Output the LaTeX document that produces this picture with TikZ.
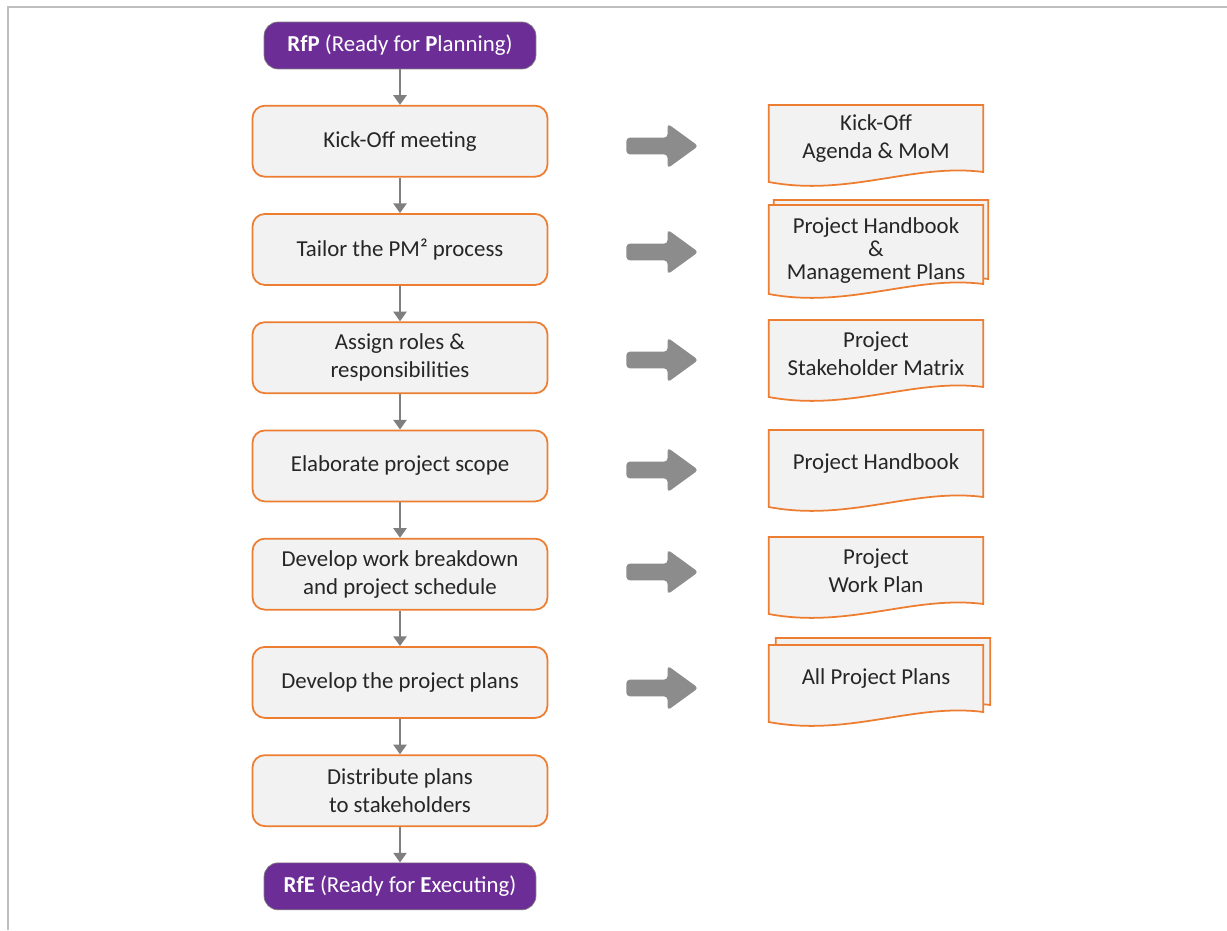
\documentclass[tikz,border=0pt]{standalone}
\usepackage{fontspec}
\setmainfont{Carlito}
\usetikzlibrary{arrows.meta,positioning,shapes.arrows,calc,backgrounds}

\definecolor{pmorange}{RGB}{237,125,49}
\definecolor{pmpurple}{RGB}{108,46,150}
\definecolor{pmfill}{RGB}{242,242,242}
\definecolor{pmgray}{RGB}{127,127,127}
\definecolor{pmframe}{RGB}{191,191,191}

\tikzset{
  stage/.style={draw=pmorange, fill=pmfill, line width=1pt, rounded corners=7pt,
    minimum width=5.9cm, minimum height=1.42cm, align=center, text=black!85,
    font=\fontsize{13}{16}\selectfont},
  gate/.style={draw=pmgray, fill=pmpurple, rounded corners=8pt, minimum width=5.44cm,
    minimum height=0.94cm, text=white, font=\fontsize{13}{16}\selectfont},
  flow/.style={draw=pmgray, line width=1.1pt, -{Triangle[width=7.5pt,length=5.5pt]}},
  fatarrow/.style={single arrow, fill=pmgray!90, anchor=tail, minimum height=1.44cm,
    inner xsep=0pt, inner ysep=0.16cm, single arrow head extend=0.28cm,
    single arrow tip angle=72, rounded corners=2pt},
  doctext/.style={anchor=north, minimum width=4.28cm, minimum height=1.32cm, inner sep=0pt,
    align=center, text=black!85, font=\fontsize{13}{16}\selectfont},
  docline/.style={draw=pmorange, fill=pmfill, line width=1pt}
}

% document outline with wavy bottom: node name, offset, extra height
\newcommand\docoutline[3]{%
  \draw[docline] ($(#1.north west)+(#2)$) -- ($(#1.north east)+(#2)$)
    -- ($(#1.north east)+(#2)+(0,67+#3)$)
    .. controls ($(#1.north east)+(#2)+(-70,58+#3)$) and ($(#1.north west)+(#2)+(80,92+#3)$)
    .. ($(#1.north west)+(#2)+(0,77+#3)$) -- cycle;}

\begin{document}
\begin{tikzpicture}[x=0.02cm, y=-0.02cm, node distance=0.71cm]
  \useasboundingbox (0,0) rectangle (1227,930);
  \draw[pmframe, line width=1.2pt] (8,930) -- (8,7) -- (1227,7);

  % process column
  \node[gate]  (rfp)     at (400,45.5)        {\textbf{RfP} (Ready for \textbf{P}lanning)};
  \node[stage] (kick)    [below=of rfp]       {Kick-Off meeting};
  \node[stage] (tailor)  [below=of kick]      {Tailor the PM² process};
  \node[stage] (roles)   [below=of tailor]    {Assign roles \&\\responsibilities};
  \node[stage] (scope)   [below=of roles]     {Elaborate project scope};
  \node[stage] (wbs)     [below=of scope]     {Develop work breakdown\\and project schedule};
  \node[stage] (plans)   [below=of wbs]       {Develop the project plans};
  \node[stage] (distrib) [below=of plans]     {Distribute plans\\to stakeholders};
  \node[gate]  (rfe)     [below=of distrib]   {\textbf{RfE} (Ready for \textbf{E}xecuting)};

  \foreach \a/\b in {rfp/kick, kick/tailor, tailor/roles, roles/scope,
                     scope/wbs, wbs/plans, plans/distrib, distrib/rfe}
    \draw[flow] (\a) -- (\b);

  % outputs
  \node[fatarrow] (ar1) at (626,146) {};
  \node[fatarrow] (ar2) at (626,252) {};
  \node[fatarrow] (ar3) at (626,360) {};
  \node[fatarrow] (ar4) at (626,470) {};
  \node[fatarrow] (ar5) at (626,572) {};
  \node[fatarrow] (ar6) at (626,688) {};

  \node[doctext] (dkick)  at (876,105) {Kick-Off\\Agenda \& MoM};
  \node[doctext, minimum height=1.8cm] (dhand) at (876,205)
    {Project Handbook\\[-3pt]\&\\[-3pt]Management Plans};
  \node[doctext] (dstake) at (876,320) {Project\\Stakeholder Matrix};
  \node[doctext] (dscope) at (876,430) {Project Handbook};
  \node[doctext] (dwork)  at (876,537) {Project\\Work Plan};
  \node[doctext] (dplans) at (876,645) {All Project Plans};

  \begin{scope}[on background layer]
    \docoutline{dkick}{0,0}{0}
    \docoutline{dhand}{5,-5}{12}
    \docoutline{dhand}{0,0}{12}
    \docoutline{dstake}{0,0}{0}
    \docoutline{dscope}{0,0}{0}
    \docoutline{dwork}{0,0}{0}
    \docoutline{dplans}{7,-7}{0}
    \docoutline{dplans}{0,0}{0}
  \end{scope}
\end{tikzpicture}
\end{document}
